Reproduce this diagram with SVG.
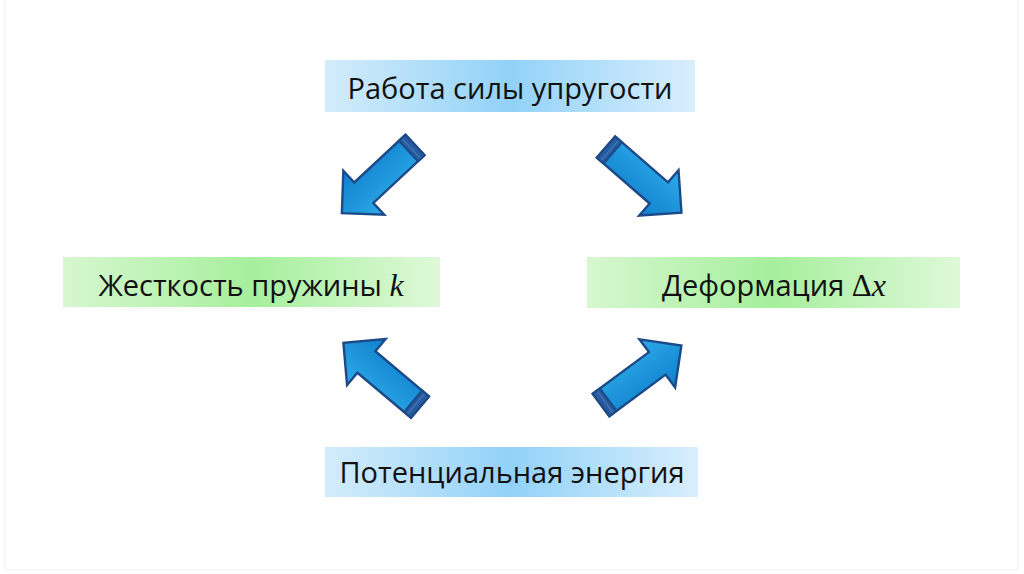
<svg xmlns="http://www.w3.org/2000/svg" width="1024" height="574" viewBox="0 0 1024 574">
<defs>
<linearGradient id="gBlue" x1="0" y1="0" x2="1" y2="0">
<stop offset="0" stop-color="#d4ecfb"/>
<stop offset="0.5" stop-color="#92d2f8"/>
<stop offset="1" stop-color="#d8eefc"/>
</linearGradient>
<linearGradient id="gGreen" x1="0" y1="0" x2="1" y2="0">
<stop offset="0" stop-color="#d6f7cf"/>
<stop offset="0.5" stop-color="#a6ef9d"/>
<stop offset="1" stop-color="#def9d8"/>
</linearGradient>
<linearGradient id="gArrow" x1="0" y1="0" x2="0" y2="1">
<stop offset="0" stop-color="#2eaaea"/>
<stop offset="1" stop-color="#0f80cc"/>
</linearGradient>
<g id="arrow">
<path d="M0,-14 L70,-14 L70,-30 L100,0 L70,30 L70,14 L0,14 Z" fill="url(#gArrow)" stroke="#1c4a88" stroke-width="2.4" stroke-linejoin="miter"/>
<rect x="0" y="-14" width="9" height="28" fill="#285a9c" stroke="#1c4a88" stroke-width="2"/>
<line x1="5" y1="-13" x2="5" y2="13" stroke="#3b74b8" stroke-width="1.5"/>
</g>
</defs>
<style>
.t{font-family:"Open Sans","Noto Sans","DejaVu Sans",sans-serif;font-size:29px;fill:#111;text-anchor:middle}
.m{font-family:"Liberation Serif","DejaVu Serif",serif;font-style:italic}
.u{font-family:"Liberation Serif","DejaVu Serif",serif}
</style>
<rect width="1024" height="574" fill="#ffffff"/>
<rect x="5" y="-2" width="1013" height="572" fill="none" stroke="#f1f1f1" stroke-width="1"/>
<g id="node-work">
<rect x="325" y="60" width="370" height="52" fill="url(#gBlue)"/>
<text class="t" x="510" y="99">Работа силы упругости</text>
</g>
<g id="node-stiffness">
<rect x="63" y="257" width="377" height="50" fill="url(#gGreen)"/>
<text class="t" x="251" y="296">Жесткость пружины <tspan class="m" font-size="32">k</tspan></text>
</g>
<g id="node-deformation">
<rect x="587" y="257" width="373" height="51" fill="url(#gGreen)"/>
<text class="t" x="774" y="296">Деформация <tspan class="u" font-size="31">Δ</tspan><tspan class="m" font-size="32">x</tspan></text>
</g>
<g id="node-energy">
<rect x="325" y="447" width="373" height="50" fill="url(#gBlue)"/>
<text class="t" x="512" y="483">Потенциальная энергия</text>
</g>
<g id="connectors">
<use href="#arrow" transform="translate(415,145) rotate(137)"/>
<use href="#arrow" transform="translate(606,147) rotate(41)"/>
<use href="#arrow" transform="translate(420,407) rotate(220)"/>
<use href="#arrow" transform="translate(601,405) rotate(-36.5)"/>
</g>
</svg>
